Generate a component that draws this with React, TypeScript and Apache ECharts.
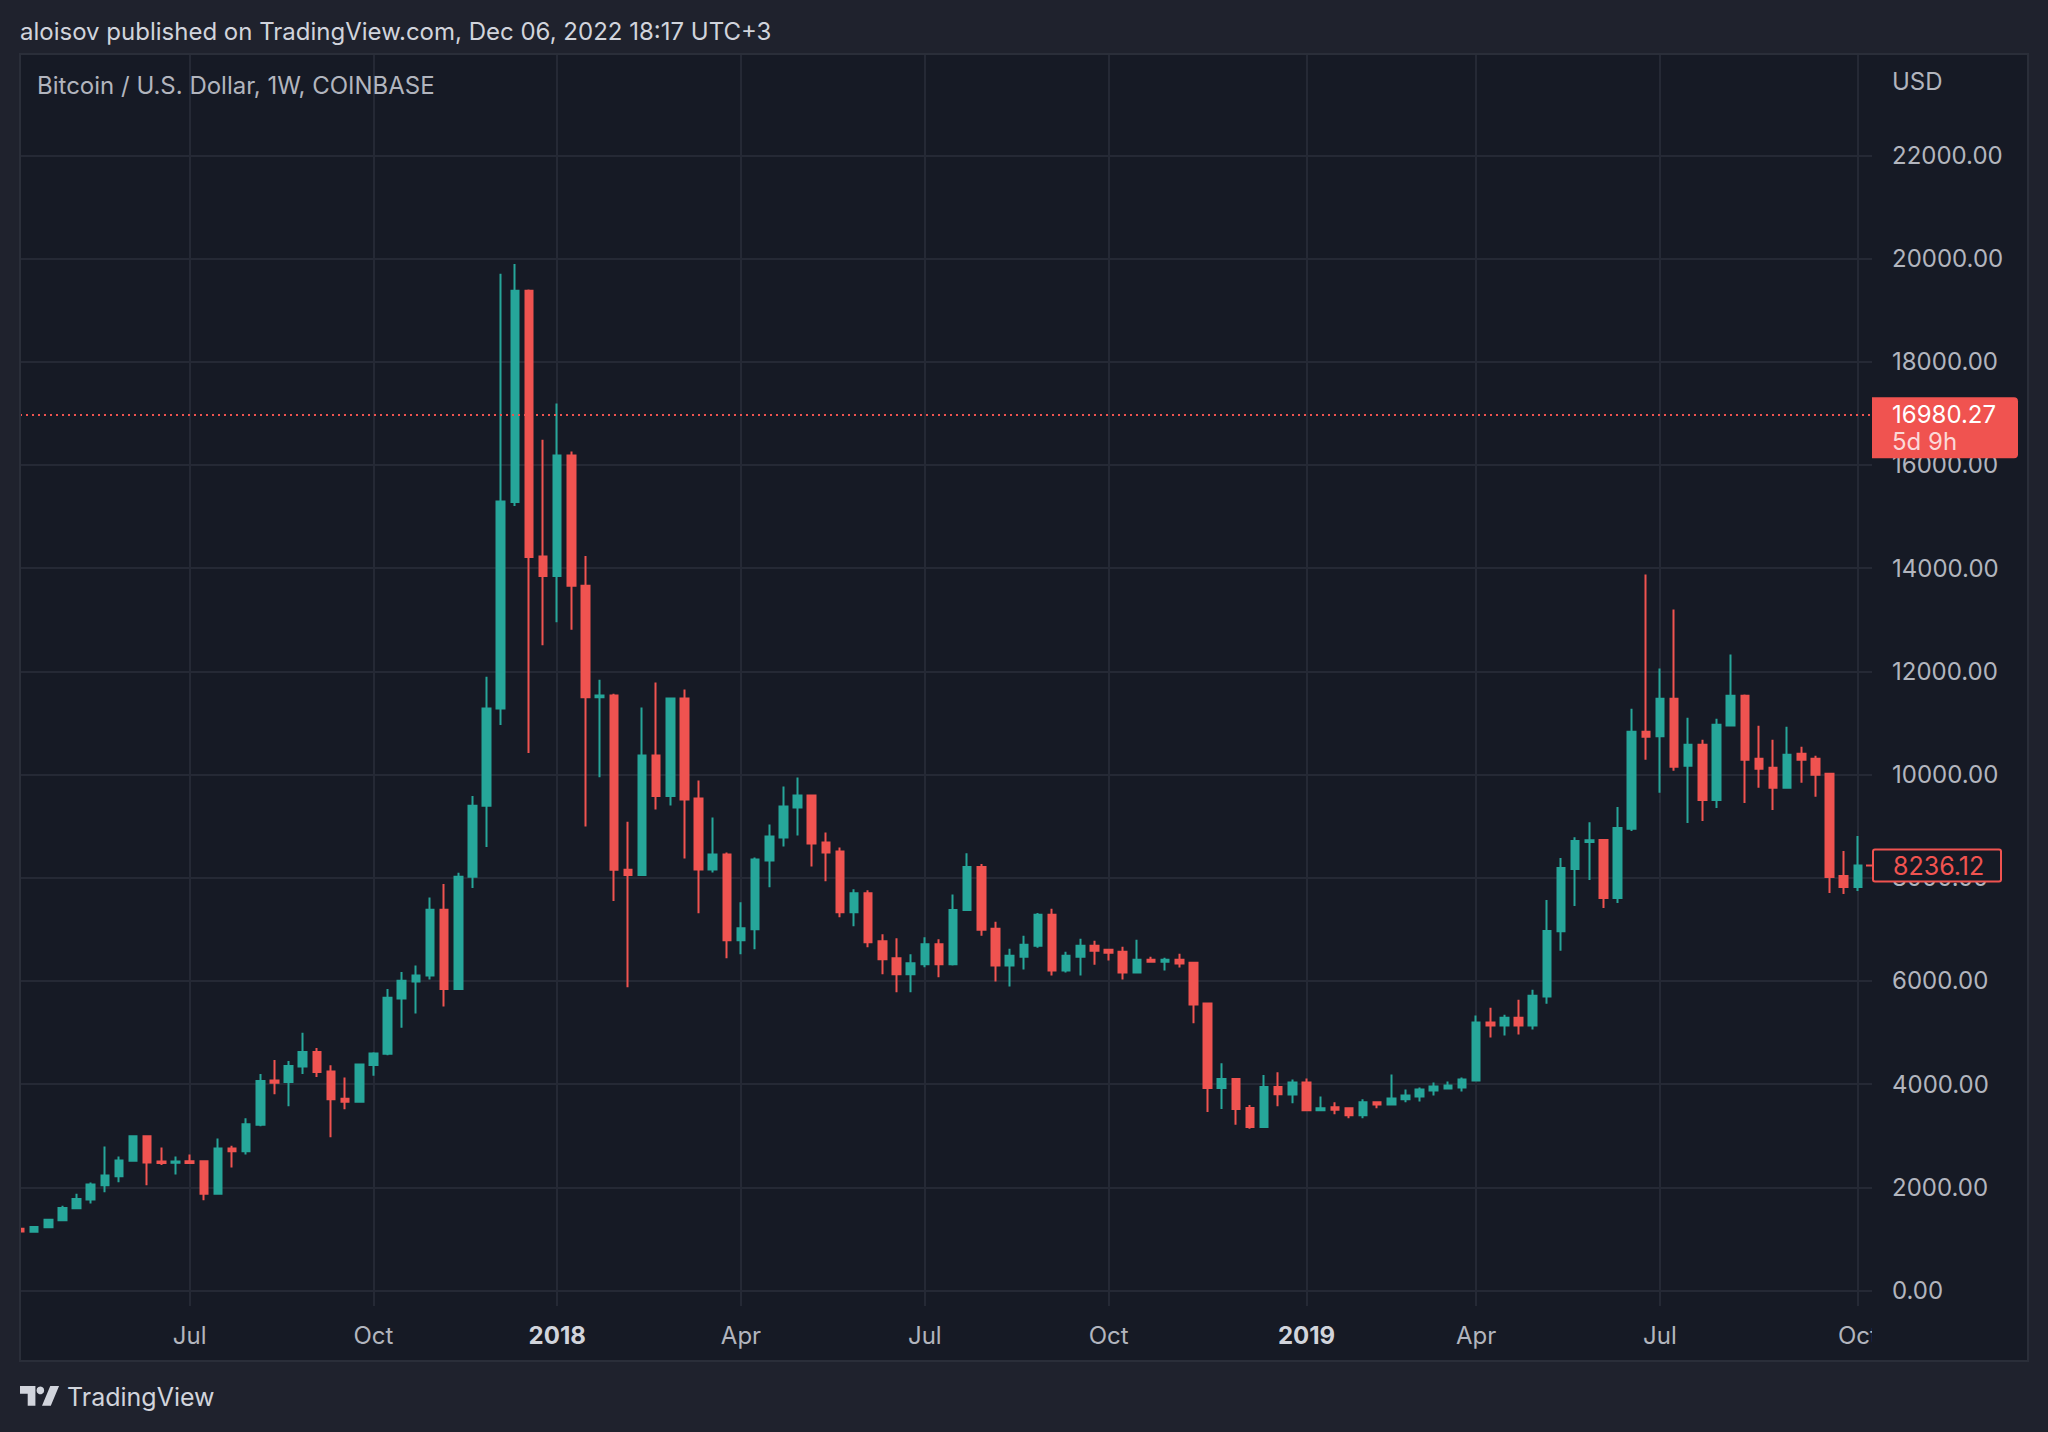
import React, { useEffect, useRef } from "react";
import * as echarts from "echarts";

// Weekly bars (Monday of each week), Coinbase BTC/USD, 1W
const weeks: string[] = [
  "2017-04-10", "2017-04-17", "2017-04-24", "2017-05-01", "2017-05-08", "2017-05-15", "2017-05-22", "2017-05-29",
  "2017-06-05", "2017-06-12", "2017-06-19", "2017-06-26", "2017-07-03", "2017-07-10", "2017-07-17", "2017-07-24",
  "2017-07-31", "2017-08-07", "2017-08-14", "2017-08-21", "2017-08-28", "2017-09-04", "2017-09-11", "2017-09-18",
  "2017-09-25", "2017-10-02", "2017-10-09", "2017-10-16", "2017-10-23", "2017-10-30", "2017-11-06", "2017-11-13",
  "2017-11-20", "2017-11-27", "2017-12-04", "2017-12-11", "2017-12-18", "2017-12-25", "2018-01-01", "2018-01-08",
  "2018-01-15", "2018-01-22", "2018-01-29", "2018-02-05", "2018-02-12", "2018-02-19", "2018-02-26", "2018-03-05",
  "2018-03-12", "2018-03-19", "2018-03-26", "2018-04-02", "2018-04-09", "2018-04-16", "2018-04-23", "2018-04-30",
  "2018-05-07", "2018-05-14", "2018-05-21", "2018-05-28", "2018-06-04", "2018-06-11", "2018-06-18", "2018-06-25",
  "2018-07-02", "2018-07-09", "2018-07-16", "2018-07-23", "2018-07-30", "2018-08-06", "2018-08-13", "2018-08-20",
  "2018-08-27", "2018-09-03", "2018-09-10", "2018-09-17", "2018-09-24", "2018-10-01", "2018-10-08", "2018-10-15",
  "2018-10-22", "2018-10-29", "2018-11-05", "2018-11-12", "2018-11-19", "2018-11-26", "2018-12-03", "2018-12-10",
  "2018-12-17", "2018-12-24", "2018-12-31", "2019-01-07", "2019-01-14", "2019-01-21", "2019-01-28", "2019-02-04",
  "2019-02-11", "2019-02-18", "2019-02-25", "2019-03-04", "2019-03-11", "2019-03-18", "2019-03-25", "2019-04-01",
  "2019-04-08", "2019-04-15", "2019-04-22", "2019-04-29", "2019-05-06", "2019-05-13", "2019-05-20", "2019-05-27",
  "2019-06-03", "2019-06-10", "2019-06-17", "2019-06-24", "2019-07-01", "2019-07-08", "2019-07-15", "2019-07-22",
  "2019-07-29", "2019-08-05", "2019-08-12", "2019-08-19", "2019-08-26", "2019-09-02", "2019-09-09", "2019-09-16",
  "2019-09-23", "2019-09-30", "2019-10-07", "2019-10-14",
];

const opens: number[] = [
  1195, 1140, 1225, 1360, 1595, 1765, 2040, 2215, 2515, 2987, 2500, 2475, 2505, 2505, 1876, 2750,
  2700, 3210, 4071, 4040, 4340, 4623, 4245, 3717, 3660, 4370, 4590, 5660, 5990, 6106, 7379, 5845,
  8016, 9392, 11279, 15281, 19375, 14224, 13849, 16180, 13656, 11495, 11530, 8153, 8051, 10368, 9581, 11471,
  9535, 8161, 8451, 6787, 7000, 8335, 8780, 9361, 9593, 8684, 8510, 7329, 7697, 6767, 6438, 6129,
  6322, 6710, 6322, 7376, 8206, 7010, 6296, 6470, 6682, 7280, 6200, 6470, 6682, 6605, 6566, 6161,
  6412, 6373, 6412, 6354, 5563, 3923, 4097, 3538, 3171, 3943, 3800, 4032, 3491, 3549, 3530, 3395,
  3646, 3607, 3704, 3762, 3878, 3916, 3936, 4071, 5192, 5134, 5288, 5134, 5700, 6960, 8170, 8690,
  8732, 7606, 8950, 10829, 10740, 11469, 10168, 10576, 9508, 10950, 11528, 10305, 10130, 9741, 10400, 10305,
  10013, 8033, 7819,
];
const closes: number[] = [
  1145, 1233, 1370, 1597, 1773, 2052, 2227, 2519, 2987, 2480, 2470, 2500, 2470, 1876, 2753, 2700,
  3221, 4058, 4026, 4351, 4623, 4234, 3708, 3660, 4378, 4594, 5674, 6004, 6106, 7379, 5845, 8016,
  9392, 11279, 15293, 19375, 14213, 13849, 16180, 13656, 11495, 11530, 8153, 8050, 10368, 9581, 11471, 9516,
  8161, 8451, 6787, 7019, 8355, 8800, 9380, 9593, 8664, 8490, 7329, 7697, 6748, 6419, 6129, 6342,
  6710, 6322, 7376, 8206, 6990, 6296, 6489, 6701, 7280, 6200, 6489, 6682, 6585, 6547, 6161, 6412,
  6373, 6412, 6335, 5544, 3923, 4097, 3518, 3171, 3943, 3805, 4032, 3491, 3530, 3504, 3395, 3646,
  3607, 3723, 3781, 3897, 3955, 3974, 4090, 5192, 5134, 5288, 5134, 5713, 6969, 8187, 8709, 8728,
  7606, 8965, 10829, 10732, 11469, 10149, 10576, 9508, 10965, 11528, 10285, 10110, 9741, 10382, 10285, 9994,
  8014, 7819, 8236.12,
];
const lows: number[] = [
  1135, 1130, 1215, 1352, 1588, 1688, 1902, 2097, 2505, 2040, 2430, 2247, 2465, 1747, 1870, 2383,
  2637, 3185, 3805, 3571, 4195, 4136, 2970, 3513, 3650, 4162, 4560, 5094, 5367, 6026, 5504, 5840,
  7800, 8596, 10961, 15202, 10415, 12507, 12951, 12803, 8994, 9949, 7550, 5878, 8040, 9322, 9400, 8374,
  7309, 8103, 6438, 6516, 6613, 7813, 8606, 8819, 8219, 7929, 7232, 7058, 6651, 6129, 5780, 5780,
  6264, 6071, 6300, 7357, 6875, 5987, 5891, 6219, 6643, 6103, 6161, 6103, 6315, 6393, 6026, 6142,
  6354, 6200, 6258, 5177, 3460, 3518, 3210, 3133, 3160, 3572, 3627, 3472, 3472, 3414, 3337, 3337,
  3530, 3600, 3646, 3665, 3781, 3900, 3858, 4052, 4902, 4941, 4960, 5057, 5559, 6583, 7453, 7955,
  7412, 7509, 8906, 10285, 9644, 10072, 9062, 9101, 9353, 10940, 9450, 9741, 9314, 9730, 9838, 9567,
  7703, 7683, 7742,
];
const highs: number[] = [
  1200, 1240, 1378, 1643, 1876, 2091, 2792, 2597, 2990, 2990, 2773, 2597, 2636, 2520, 2948, 2805,
  3338, 4195, 4468, 4448, 4994, 4701, 4365, 4127, 4385, 4616, 5845, 6174, 6300, 7618, 7880, 8095,
  9585, 11893, 19704, 19891, 19400, 16487, 17192, 16259, 14235, 11836, 11563, 9085, 11297, 11781, 11490, 11645,
  9884, 9168, 8490, 7522, 8393, 9032, 9768, 9942, 9613, 8877, 8587, 7774, 7755, 6903, 6826, 6516,
  6845, 6806, 7672, 8476, 8264, 7145, 6624, 6875, 7318, 7396, 6566, 6817, 6778, 6624, 6663, 6798,
  6470, 6450, 6528, 6373, 5570, 4406, 4116, 3596, 4174, 4230, 4090, 4110, 3762, 3646, 3535, 3704,
  3665, 4187, 3897, 3936, 4032, 4052, 4129, 5327, 5482, 5346, 5636, 5829, 7568, 8380, 8786, 9076,
  8740, 9372, 11275, 13877, 12052, 13197, 11100, 10673, 11081, 12324, 11550, 10945, 10673, 10926, 10537, 10363,
  10030, 8518, 8809,
];

// Time-axis tick labels (bar index of the first weekly bar in each labelled month)
const tickIndex: number[] = [12, 25, 38, 51, 64, 77, 91, 103, 116, 130];
const tickText: string[] = ["Jul", "Oct", "2018", "Apr", "Jul", "Oct", "2019", "Apr", "Jul", "Oct"];
const yearTicks: string[] = ["2018", "2019"];

const lastPrice = 16980.27;
const lastPriceCountdown = "5d 9h";
const markedPrice = 8236.12;

const headerText = "aloisov published on TradingView.com, Dec 06, 2022 18:17 UTC+3";
const titleText = "Bitcoin / U.S. Dollar, 1W, COINBASE";
const currencyText = "USD";
const brandText = "TradingView";

const UP = "#26a69a";
const DOWN = "#ef5350";
const OUTER = "#1f222d";
const PANEL = "#161a25";
const GRID = "#252935";
const BORDER = "#2a2e39";
const LABEL = "#b2b5be";
const BRIGHT = "#d1d4dc";
const FONT = "Inter, 'Noto Sans', 'DejaVu Sans', sans-serif";

const LOGO_D = "M14 22H7V11H0V4h14v18zM28 22h-8l7.5-18h8L28 22z";
let logoRegistered = false;

export default function App() {
  const ref = useRef<HTMLDivElement>(null);

  useEffect(() => {
    if (!ref.current) return;
    if (!logoRegistered) {
      echarts.graphic.registerShape("tvlogo", echarts.graphic.extendPath(LOGO_D, {}) as any);
      logoRegistered = true;
    }
    const chart = echarts.init(ref.current, undefined, { renderer: "svg" });
    const tickSet = new Set(tickIndex);

    const candles = weeks.map((_, i) =>
      i < opens.length ? [opens[i], closes[i], lows[i], highs[i]] : "-"
    );

    const option: any = {
      animation: false,
      backgroundColor: OUTER,
      textStyle: { fontFamily: FONT },
      grid: [
        { left: 20, top: 54, width: 1852, height: 1236.5 },
        { left: 20, top: 54, width: 1852, height: 1252 },
      ],
      xAxis: [
        { type: "category", gridIndex: 0, data: weeks, boundaryGap: false, show: false },
        {
          type: "category",
          gridIndex: 1,
          data: weeks,
          boundaryGap: false,
          axisLine: { show: false },
          axisTick: { show: false },
          splitLine: {
            show: true,
            interval: (i: number) => tickSet.has(i),
            lineStyle: { color: GRID, width: 2 },
          },
          axisLabel: {
            interval: (i: number) => tickSet.has(i),
            formatter: (_v: string, i: number) => {
              const k = tickIndex.indexOf(i);
              if (k < 0) return "";
              const t = tickText[k];
              return yearTicks.includes(t) ? "{y|" + t + "}" : t;
            },
            margin: 17,
            fontSize: 24,
            fontFamily: FONT,
            color: LABEL,
            rich: { y: { fontSize: 24, fontWeight: "bold", color: BRIGHT, fontFamily: FONT } },
          },
        },
      ],
      yAxis: [
        {
          type: "value",
          gridIndex: 0,
          position: "right",
          min: 0,
          max: 23963,
          interval: 2000,
          axisLine: { show: false },
          axisTick: { show: false },
          splitLine: { show: true, lineStyle: { color: GRID, width: 2 } },
          axisLabel: {
            formatter: (v: number) => (v % 2000 === 0 ? v.toFixed(2) : ""),
            align: "left",
            margin: 20,
            fontSize: 24,
            fontFamily: FONT,
            color: LABEL,
          },
        },
        { type: "value", gridIndex: 1, show: false },
      ],
      series: [
        {
          type: "candlestick",
          xAxisIndex: 0,
          yAxisIndex: 0,
          data: candles,
          barWidth: 8,
          itemStyle: {
            color: UP,
            color0: DOWN,
            borderColor: UP,
            borderColor0: DOWN,
            borderWidth: 2,
          },
          markLine: {
            silent: true,
            symbol: ["none", "none"],
            label: { show: false },
            lineStyle: { color: DOWN, type: [2, 4], width: 2 },
            data: [{ yAxis: lastPrice }],
          },
        },
      ],
    };
    chart.setOption(option);

    const py = chart.convertToPixel({ yAxisIndex: 0 }, lastPrice) as number;
    const pm = chart.convertToPixel({ yAxisIndex: 0 }, markedPrice) as number;

    chart.setOption({
      graphic: {
        elements: [
          { type: "rect", z: -10, silent: true, shape: { x: 20, y: 54, width: 2008, height: 1307 }, style: { fill: PANEL } },
          { type: "rect", z: 50, silent: true, shape: { x: 0, y: 54, width: 19, height: 1307 }, style: { fill: OUTER } },
          { type: "rect", z: 50, silent: true, shape: { x: 1872, y: 1307, width: 155, height: 53 }, style: { fill: PANEL } },
          { type: "rect", z: 60, silent: true, shape: { x: 20, y: 54, width: 2008, height: 1307 }, style: { fill: "none", stroke: BORDER, lineWidth: 2 } },
          { type: "text", z: 60, x: 20, y: 31, style: { text: headerText, fill: BRIGHT, font: `24px ${FONT}`, verticalAlign: "middle" } },
          { type: "text", z: 60, x: 37, y: 85, style: { text: titleText, fill: LABEL, font: `24px ${FONT}`, verticalAlign: "middle" } },
          { type: "text", z: 60, x: 1892, y: 81, style: { text: currencyText, fill: LABEL, font: `24px ${FONT}`, verticalAlign: "middle" } },
          // last price box
          { type: "rect", z: 70, silent: true, shape: { x: 1872, y: py - 17, width: 146, height: 61, r: [0, 4, 4, 0] }, style: { fill: "#f05350" } },
          { type: "text", z: 71, x: 1892, y: py, style: { text: lastPrice.toFixed(2), fill: "#ffffff", font: `24px ${FONT}`, verticalAlign: "middle" } },
          { type: "text", z: 71, x: 1892, y: py + 27, style: { text: lastPriceCountdown, fill: "rgba(255,255,255,0.78)", font: `24px ${FONT}`, verticalAlign: "middle" } },
          // marked price box
          { type: "line", z: 70, silent: true, shape: { x1: 1866, y1: pm, x2: 1872, y2: pm }, style: { stroke: "#f05350", lineWidth: 2 } },
          { type: "rect", z: 70, silent: true, shape: { x: 1873, y: pm - 16, width: 128, height: 32, r: 2 }, style: { fill: PANEL, stroke: "#f05350", lineWidth: 2 } },
          { type: "text", z: 71, x: 1893, y: pm, style: { text: markedPrice.toFixed(2), fill: "#f05350", font: `25px ${FONT}`, verticalAlign: "middle" } },
          // TradingView brand
          { type: "tvlogo", z: 60, x: 20, y: 1381.6, scaleX: 1.1, scaleY: 1.1, style: { fill: BRIGHT } },
          { type: "circle", z: 60, shape: { cx: 20 + 18.5 * 1.1, cy: 1381.6 + 8 * 1.1, r: 3.8 }, style: { fill: BRIGHT } },
          { type: "text", z: 60, x: 67, y: 1397, style: { text: brandText, fill: BRIGHT, font: `25px ${FONT}`, verticalAlign: "middle" } },
        ],
      },
    });

    return () => chart.dispose();
  }, []);

  return (
    <div
      ref={ref}
      style={{ position: "fixed", left: 0, top: 0, width: 2048, height: 1432 }}
    />
  );
}
